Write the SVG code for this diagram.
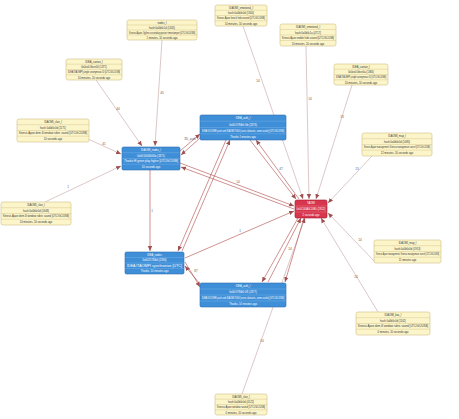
<svg xmlns="http://www.w3.org/2000/svg" width="459" height="419" viewBox="0 0 459 419">
<defs>
<style>
.y rect{fill:#fcf5c9;stroke:#cdbd85;stroke-width:0.6}
.y line{stroke:#cdbd85;stroke-width:0.4}
.y text{fill:#333}
.b rect{fill:#3f8fd8;stroke:#2b6cae;stroke-width:0.6}
.b line{stroke:#7fb6ea;stroke-width:0.4}
.b text{fill:#fff}
.r rect{fill:#d8364c;stroke:#9e1b2d;stroke-width:0.6}
.r line{stroke:#ee8a96;stroke-width:0.4}
.r text{fill:#fff}
text{font-family:"Liberation Sans",Arial,sans-serif;font-size:2.6px;text-anchor:middle}
.e line{stroke:#c4a2a2;stroke-width:0.6;marker-end:url(#a)}
.e line.d{stroke:#b04848}
.e text{fill:#555;font-size:3px}
</style>
<marker id="a" markerWidth="6" markerHeight="6" refX="5" refY="3" orient="auto" markerUnits="userSpaceOnUse"><path d="M0,0.8 L5,3 L0,5.2z" fill="#a05050"/></marker>
</defs>
<rect width="459" height="419" fill="#fff"/>
<g class="e" id="connectors">
<line x1="243" y1="26" x2="303" y2="199"/><text x="258" y="82">14</text>
<line x1="306" y1="46" x2="309" y2="199"/><text x="310" y="100">14</text>
<line x1="352" y1="85" x2="316" y2="199"/><text x="342" y="118">13</text>
<line x1="372" y1="156" x2="328" y2="203"/><text x="357" y="170">13</text>
<line x1="376" y1="263" x2="328" y2="213"/><text x="360" y="241">14</text>
<line x1="378" y1="312" x2="321" y2="218"/><text x="356" y="278">14</text>
<line x1="242" y1="394" x2="305" y2="218"/><text x="262" y="342">14</text>
<line x1="162" y1="40" x2="155" y2="146"/><text x="162" y="94">45</text>
<line x1="96" y1="80" x2="142" y2="146"/><text x="118" y="110">44</text>
<line x1="88" y1="139" x2="121" y2="154"/><text x="104" y="145">41</text>
<line x1="45" y1="202" x2="121" y2="166"/><text x="68" y="188">1</text>
<line class="d" x1="180" y1="151" x2="200" y2="134"/>
<line class="d" x1="200" y1="138" x2="181" y2="155"/><text x="190" y="140">3D_auth</text>
<line class="d" x1="180" y1="163" x2="294" y2="206"/>
<line class="d" x1="294" y1="209" x2="181" y2="167"/><text x="238" y="183">14</text>
<line class="d" x1="150" y1="170" x2="150" y2="251"/><text x="152" y="212">1</text>
<line class="d" x1="250" y1="140" x2="296" y2="199"/>
<line class="d" x1="299" y1="199" x2="256" y2="140"/><text x="281" y="170">47</text>
<line class="d" x1="226" y1="140" x2="178" y2="251"/>
<line class="d" x1="182" y1="251" x2="230" y2="140"/>
<line class="d" x1="185" y1="262" x2="200" y2="287"/>
<line class="d" x1="200" y1="284" x2="185" y2="266"/><text x="196" y="272">87</text>
<line class="d" x1="185" y1="258" x2="294" y2="211"/><text x="240" y="232">1</text>
<line class="d" x1="298" y1="218" x2="262" y2="282"/>
<line class="d" x1="268" y1="282" x2="301" y2="218"/>
<line class="d" x1="304" y1="218" x2="285" y2="282"/><text x="290" y="250">14</text>
</g>
<g class="y" id="n_top_emotional">
<rect x="215" y="5" width="52" height="21" rx="2"/>
<line x1="215" y1="10.3" x2="267" y2="10.3"/><line x1="215" y1="15.5" x2="267" y2="15.5"/><line x1="215" y1="20.8" x2="267" y2="20.8"/>
<text x="241" y="8.9">IDAOMI_emotional_l</text><text x="241" y="14.1">hash 0a0b0c0d (1300)</text><text x="241" y="19.3" textLength="48" lengthAdjust="spacingAndGlyphs">Kinesis Ajaxe knock hide around [UTC/GC/USB]</text><text x="241" y="24.5">10 minutes, 10 seconds ago</text>
</g>
<g class="y" id="n_topright_emotional">
<rect x="280" y="24" width="56" height="22" rx="2"/>
<line x1="280" y1="29.5" x2="336" y2="29.5"/><line x1="280" y1="35" x2="336" y2="35"/><line x1="280" y1="40.5" x2="336" y2="40.5"/>
<text x="308" y="28.2">IDAOMI_emotional_l</text><text x="308" y="33.7">hash 0a0b0c1a (4717)</text><text x="308" y="39.2" textLength="52" lengthAdjust="spacingAndGlyphs">Kinesis Ajaxe mobile hide around [UTC/GC/USB]</text><text x="308" y="44.7">10 minutes, 10 seconds ago</text>
</g>
<g class="y" id="n_nodes">
<rect x="127" y="20" width="70" height="20" rx="2"/>
<line x1="127" y1="25" x2="197" y2="25"/><line x1="127" y1="30" x2="197" y2="30"/><line x1="127" y1="35" x2="197" y2="35"/>
<text x="162" y="23.5">nodes_l</text><text x="162" y="28.5">hash 0a0b0c1d (1345)</text><text x="162" y="33.5" textLength="66" lengthAdjust="spacingAndGlyphs">Kinesis Ajaxe Ogiline secondary poster timestamper [UTC/GC/USB]</text><text x="162" y="38.5">1 minutes, 10 seconds ago</text>
</g>
<g class="y" id="n_suntan_left">
<rect x="66" y="59" width="56" height="21" rx="2"/>
<line x1="66" y1="64.2" x2="122" y2="64.2"/><line x1="66" y1="69.5" x2="122" y2="69.5"/><line x1="66" y1="74.8" x2="122" y2="74.8"/>
<text x="94" y="62.9">IDEA_suntan_l</text><text x="94" y="68.1">0x0xx0 0bce00 (1371)</text><text x="94" y="73.4" textLength="52" lengthAdjust="spacingAndGlyphs">IDEA ITAOMPI jungle anonymous ID [UTC/GC/USB]</text><text x="94" y="78.7">10 minutes, 10 seconds ago</text>
</g>
<g class="y" id="n_suntan_right">
<rect x="334" y="64" width="54" height="21" rx="2"/>
<line x1="334" y1="69.2" x2="388" y2="69.2"/><line x1="334" y1="74.5" x2="388" y2="74.5"/><line x1="334" y1="79.8" x2="388" y2="79.8"/>
<text x="361" y="67.9">IDEA_suntan_l</text><text x="361" y="73.1">0x0xx0 0bce0a (1366)</text><text x="361" y="78.4" textLength="50" lengthAdjust="spacingAndGlyphs">IDEA ITAOMPI jungle anonymous ID [UTC/GC/USB]</text><text x="361" y="83.7">10 minutes, 10 seconds ago</text>
</g>
<g class="y" id="n_clan_left">
<rect x="17" y="119" width="72" height="23" rx="2"/>
<line x1="17" y1="124.7" x2="89" y2="124.7"/><line x1="17" y1="130.5" x2="89" y2="130.5"/><line x1="17" y1="136.2" x2="89" y2="136.2"/>
<text x="53" y="122.9">IDAOMI_clan_l</text><text x="53" y="128.6">hash 0a0b0c0d (1171)</text><text x="53" y="134.4" textLength="68" lengthAdjust="spacingAndGlyphs">Kinesis Ajaxe dem 4l window rubric sound [UTC/GC/USB]</text><text x="53" y="140.1">10 seconds ago</text>
</g>
<g class="b" id="n_blue_nodes">
<rect x="122" y="147" width="58" height="23" rx="1.5"/>
<line x1="122" y1="152.7" x2="180" y2="152.7"/><line x1="122" y1="158.5" x2="180" y2="158.5"/><line x1="122" y1="164.2" x2="180" y2="164.2"/>
<text x="151" y="150.9">IDAOMI_nodes_l</text><text x="151" y="156.6">0x00 00000000a (1871)</text><text x="151" y="162.4" textLength="54" lengthAdjust="spacingAndGlyphs">Thanks Hl green play higher [UTC/GC/USB]</text><text x="151" y="168.1">10 seconds ago</text>
</g>
<g class="b" id="n_blue_auth_top">
<rect x="200" y="115" width="86" height="25" rx="1.5"/>
<line x1="200" y1="121.2" x2="286" y2="121.2"/><line x1="200" y1="127.5" x2="286" y2="127.5"/><line x1="200" y1="133.8" x2="286" y2="133.8"/>
<text x="243" y="119.3">IDEA_auth_l</text><text x="243" y="125.6">0x00 0780b0 4fe (2373)</text><text x="243" y="131.8" textLength="82" lengthAdjust="spacingAndGlyphs">IDEA DOCKER push and IDAOMI 7000 (score, datasets, some sealer) [UTC/GC/USB]</text><text x="243" y="138.1">Thanks 1 minutes ago</text>
</g>
<g class="y" id="n_map_right">
<rect x="362" y="133" width="70" height="23" rx="2"/>
<line x1="362" y1="138.7" x2="432" y2="138.7"/><line x1="362" y1="144.5" x2="432" y2="144.5"/><line x1="362" y1="150.2" x2="432" y2="150.2"/>
<text x="397" y="136.9">IDAOMI_map_l</text><text x="397" y="142.6">hash 0a0b0c0d (1080)</text><text x="397" y="148.4" textLength="66" lengthAdjust="spacingAndGlyphs">Kinesis Ajaxe management, Kinesia managemant cancel [UTC/GC/USB]</text><text x="397" y="154.1">12 minutes, 10 seconds ago</text>
</g>
<g class="y" id="n_clan_left2">
<rect x="1" y="202" width="70" height="23" rx="2"/>
<line x1="1" y1="207.7" x2="71" y2="207.7"/><line x1="1" y1="213.5" x2="71" y2="213.5"/><line x1="1" y1="219.2" x2="71" y2="219.2"/>
<text x="36" y="205.9">IDAOMI_clan_l</text><text x="36" y="211.6">hash 0a0b0c0d (1648)</text><text x="36" y="217.4" textLength="66" lengthAdjust="spacingAndGlyphs">Kinesis Ajaxe dem 4l window rubric sound [UTC/GC/USB]</text><text x="36" y="223.1">10 minutes, 10 seconds ago</text>
</g>
<g class="r" id="n_red">
<rect x="295" y="200" width="32" height="18" rx="1.5"/>
<line x1="295" y1="206" x2="327" y2="206"/><line x1="295" y1="212" x2="327" y2="212"/>
<text x="311" y="204">TAOMI</text><text x="311" y="210" textLength="29" lengthAdjust="spacingAndGlyphs">0x0C00A0C0B0 (2812)</text><text x="311" y="216">2 seconds ago</text>
</g>
<g class="y" id="n_map_right2">
<rect x="374" y="240" width="67" height="23" rx="2"/>
<line x1="374" y1="245.7" x2="441" y2="245.7"/><line x1="374" y1="251.5" x2="441" y2="251.5"/><line x1="374" y1="257.2" x2="441" y2="257.2"/>
<text x="407.5" y="243.9">IDAOMI_map_l</text><text x="407.5" y="249.6">hash 0a0b0c0d (1913)</text><text x="407.5" y="255.4" textLength="63" lengthAdjust="spacingAndGlyphs">Kinesis Ajaxe management, Kinesia managemant cancel [UTC/GC/USB]</text><text x="407.5" y="261.1">11 minutes ago</text>
</g>
<g class="b" id="n_blue_idea_nodes">
<rect x="125" y="252" width="59" height="22" rx="1.5"/>
<line x1="125" y1="257.5" x2="184" y2="257.5"/><line x1="125" y1="263" x2="184" y2="263"/><line x1="125" y1="268.5" x2="184" y2="268.5"/>
<text x="154.5" y="255.8">IDEA_nodes</text><text x="154.5" y="261.3">0x0021780b0 (2390)</text><text x="154.5" y="266.8" textLength="55" lengthAdjust="spacingAndGlyphs">IDEA ITAOMPI synchronize [UTC]</text><text x="154.5" y="272.3">Thanks, 10 minutes ago</text>
</g>
<g class="b" id="n_blue_auth_bottom">
<rect x="200" y="283" width="86" height="24" rx="1.5"/>
<line x1="200" y1="289" x2="286" y2="289"/><line x1="200" y1="295" x2="286" y2="295"/><line x1="200" y1="301" x2="286" y2="301"/>
<text x="243" y="287">IDEA_auth_l</text><text x="243" y="293">0x00 0780b0 4f1 (2377)</text><text x="243" y="299" textLength="82" lengthAdjust="spacingAndGlyphs">IDEA DOCKER push and IDAOMI 7000 (score, datasets, some sealer) [UTC/GC/USB]</text><text x="243" y="305">Thanks, 10 minutes ago</text>
</g>
<g class="y" id="n_bas_right">
<rect x="356" y="312" width="74" height="23" rx="2"/>
<line x1="356" y1="317.7" x2="430" y2="317.7"/><line x1="356" y1="323.5" x2="430" y2="323.5"/><line x1="356" y1="329.2" x2="430" y2="329.2"/>
<text x="393" y="315.9">IDAOMI_bas_l</text><text x="393" y="321.6">hash 0a0b0c0d (1102)</text><text x="393" y="327.4" textLength="70" lengthAdjust="spacingAndGlyphs">Kinesis Ajaxe dem 4l window rubric sound [UTC/GC/USB]</text><text x="393" y="333.1">0 minutes, 10 seconds ago</text>
</g>
<g class="y" id="n_bottom_clan">
<rect x="215" y="394" width="52" height="21" rx="2"/>
<line x1="215" y1="399.2" x2="267" y2="399.2"/><line x1="215" y1="404.5" x2="267" y2="404.5"/><line x1="215" y1="409.8" x2="267" y2="409.8"/>
<text x="241" y="397.9">IDAOMI_clan_l</text><text x="241" y="403.1">hash 0a0b0c0d (4122)</text><text x="241" y="408.4" textLength="48" lengthAdjust="spacingAndGlyphs">Kinesis Ajaxe window sound [UTC/GC/USB]</text><text x="241" y="413.7">0 minutes, 10 seconds ago</text>
</g>
</svg>
